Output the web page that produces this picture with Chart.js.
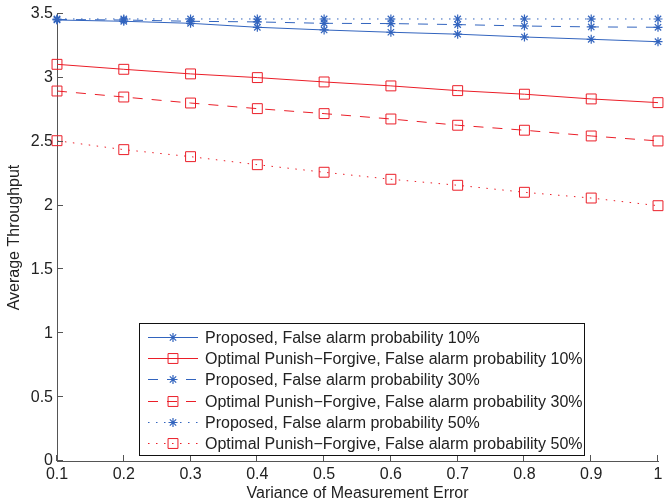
<!DOCTYPE html>
<html><head><meta charset="utf-8">
<script src="https://cdn.jsdelivr.net/npm/chart.js@4/dist/chart.umd.min.js"></script>
<style>html,body{margin:0;padding:0;background:#fff;overflow:hidden}#wrap{width:666px;height:504px}</style>
</head><body><div id="wrap"><canvas id="c" width="666" height="504"></canvas></div>
<script>
// ---- data ----
const xValues = [0.1, 0.2, 0.3, 0.4, 0.5, 0.6, 0.7, 0.8, 0.9, 1.0];
const proposed10 = [3.453, 3.443, 3.427, 3.396, 3.375, 3.357, 3.342, 3.320, 3.302, 3.283];
const punish10   = [3.106, 3.067, 3.031, 3.002, 2.968, 2.937, 2.900, 2.872, 2.835, 2.806];
const proposed30 = [3.457, 3.453, 3.443, 3.438, 3.427, 3.425, 3.417, 3.406, 3.399, 3.396];
const punish30   = [2.897, 2.850, 2.803, 2.759, 2.720, 2.678, 2.629, 2.590, 2.545, 2.506];
const proposed50 = [3.461, 3.461, 3.461, 3.461, 3.461, 3.461, 3.461, 3.461, 3.461, 3.461];
const punish50   = [2.508, 2.438, 2.383, 2.320, 2.261, 2.206, 2.159, 2.104, 2.059, 1.999];
const seriesLabels = [
  'Proposed, False alarm probability 10%',
  'Optimal Punish\u2212Forgive, False alarm probability 10%',
  'Proposed, False alarm probability 30%',
  'Optimal Punish\u2212Forgive, False alarm probability 30%',
  'Proposed, False alarm probability 50%',
  'Optimal Punish\u2212Forgive, False alarm probability 50%'
];
const xTicks = [0.1, 0.2, 0.3, 0.4, 0.5, 0.6, 0.7, 0.8, 0.9, 1];
const yTicks = [0, 0.5, 1, 1.5, 2, 2.5, 3, 3.5];
const xTitle = 'Variance of Measurement Error';
const yTitle = 'Average Throughput';

// ---- styles ----
const BLUE = 'rgb(50,100,190)';
const RED = 'rgb(235,30,40)';
const AXIS = '#555';
const TEXT = '#222';
const FONT = "'Liberation Sans', Arial, sans-serif";
const FS = 16;
const DASH = [10, 9];
const DOT = [1.5, 6.5];

function mk(label, data, color, style, dash) {
  return {
    label,
    data: data.map((v, i) => ({x: xValues[i], y: v})),
    borderColor: color,
    backgroundColor: 'rgba(0,0,0,0)',
    borderWidth: 1,
    borderDash: dash,
    pointStyle: style,
    pointRadius: style === 'rect' ? 7 : 4.5,
    pointBorderWidth: style === 'rect' ? 1 : 1.2,
    pointBorderColor: color,
    pointBackgroundColor: 'rgba(0,0,0,0)',
    tension: 0,
    clip: false,
    fill: false
  };
}

const datasets = [
  mk(seriesLabels[0], proposed10, BLUE, 'star', []),
  mk(seriesLabels[1], punish10, RED, 'rect', []),
  mk(seriesLabels[2], proposed30, BLUE, 'star', DASH),
  mk(seriesLabels[3], punish30, RED, 'rect', DASH),
  mk(seriesLabels[4], proposed50, BLUE, 'star', DOT),
  mk(seriesLabels[5], punish50, RED, 'rect', DOT)
];

const innerTicks = {
  id: 'innerTicks',
  afterDraw(chart) {
    const ctx = chart.ctx, xs = chart.scales.x, ys = chart.scales.y, a = chart.chartArea;
    ctx.save();
    ctx.strokeStyle = AXIS;
    ctx.lineWidth = 1;
    ctx.beginPath();
    xTicks.forEach(v => {
      const px = Math.round(xs.getPixelForValue(v)) - 0.5;
      ctx.moveTo(px, a.bottom); ctx.lineTo(px, a.bottom - 6);
    });
    yTicks.forEach(v => {
      const py = Math.round(ys.getPixelForValue(v)) - 0.5;
      ctx.moveTo(a.left, py); ctx.lineTo(a.left + 6, py);
    });
    ctx.stroke();
    ctx.restore();
  }
};

const boxLegend = {
  id: 'boxLegend',
  afterDraw(chart) {
    const ctx = chart.ctx;
    const bx = 139.5, by = 323.5, bw = 445, bh = 132;
    ctx.save();
    ctx.fillStyle = '#fff';
    ctx.fillRect(bx, by, bw, bh);
    ctx.strokeStyle = '#111';
    ctx.lineWidth = 1;
    ctx.setLineDash([]);
    ctx.strokeRect(bx, by, bw, bh);
    ctx.font = FS + 'px ' + FONT;
    ctx.textBaseline = 'middle';
    ctx.textAlign = 'left';
    chart.data.datasets.forEach((ds, i) => {
      const y = Math.round(337 + i * 21.2) + 0.5;
      ctx.strokeStyle = ds.borderColor;
      ctx.lineWidth = 1;
      ctx.setLineDash(ds.borderDash || []);
      ctx.beginPath();
      ctx.moveTo(148, y); ctx.lineTo(198, y);
      ctx.stroke();
      ctx.setLineDash([]);
      ctx.fillStyle = 'rgba(0,0,0,0)';
      ctx.strokeStyle = ds.borderColor;
      ctx.lineWidth = ds.pointBorderWidth;
      Chart.helpers.drawPoint(ctx, {
        pointStyle: ds.pointStyle, radius: ds.pointRadius, borderWidth: ds.pointBorderWidth, rotation: 0
      }, 173, y);
      ctx.fillStyle = TEXT;
      ctx.fillText(ds.label, 205, y + 1);
    });
    ctx.restore();
  }
};

new Chart(document.getElementById('c'), {
  type: 'line',
  data: {datasets},
  plugins: [innerTicks, boxLegend],
  options: {
    responsive: false,
    animation: false,
    devicePixelRatio: 1,
    layout: {padding: {top: 14, right: 1, bottom: 0, left: 0}},
    plugins: {legend: {display: false}, tooltip: {enabled: false}},
    scales: {
      x: {
        type: 'linear', min: 0.1, max: 1,
        afterBuildTicks: s => { s.ticks = xTicks.map(v => ({value: v})); },
        afterFit: s => { s.height = 43; s.paddingLeft = 0; s.paddingRight = 0; },
        grid: {display: true, drawOnChartArea: false, drawTicks: false},
        border: {display: true, color: AXIS, width: 1},
        ticks: {color: TEXT, padding: 4, maxRotation: 0, autoSkip: false,
          font: {family: FONT, size: FS}, callback: v => String(Math.round(v * 10) / 10)},
        title: {display: true, text: xTitle, color: TEXT, font: {family: FONT, size: FS, lineHeight: 1.2}, padding: {top: 0, bottom: 1}}
      },
      y: {
        type: 'linear', min: 0, max: 3.5,
        afterBuildTicks: s => { s.ticks = yTicks.map(v => ({value: v})); },
        afterFit: s => { s.width = 57; s.paddingTop = 0; s.paddingBottom = 0; },
        grid: {display: true, drawOnChartArea: false, drawTicks: false},
        border: {display: true, color: AXIS, width: 1},
        ticks: {color: TEXT, padding: 4, autoSkip: false,
          font: {family: FONT, size: FS}, callback: v => String(v)},
        title: {display: true, text: yTitle, color: TEXT, font: {family: FONT, size: FS, lineHeight: 1.2}, padding: {top: 5, bottom: 0}}
      }
    }
  }
});
</script></body></html>
